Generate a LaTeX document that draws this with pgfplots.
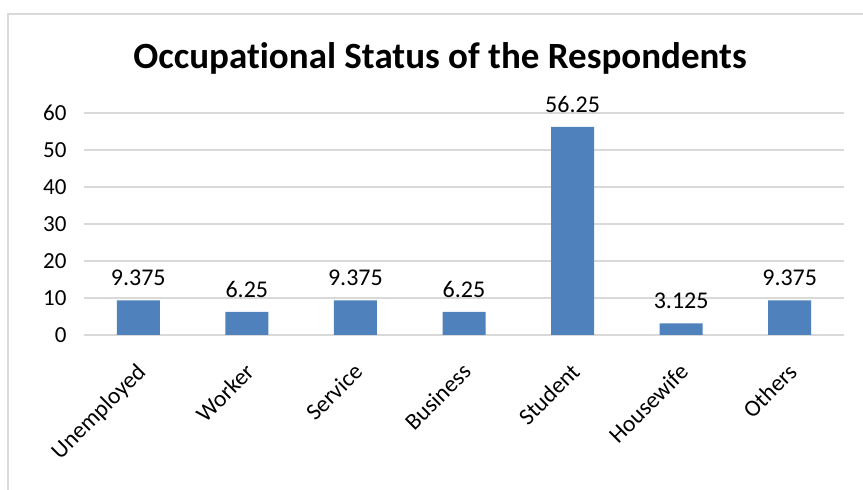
\documentclass[border=0pt]{standalone}
\usepackage{fontspec}
\setmainfont[Ligatures={NoCommon}]{Carlito}
\usepackage{pgfplots}
\pgfplotsset{compat=1.18}
\definecolor{barblue}{HTML}{4F81BD}
\definecolor{gridgray}{HTML}{D9D9D9}
\begin{document}
\begin{tikzpicture}[x=1pt,y=1pt]
\useasboundingbox (0,0) rectangle (863,490);
\fill[white] (0,0) rectangle (863,490);
% chart frame (top and left edges)
\draw[gridgray, line width=2pt] (8,0) -- (8,476) -- (863,476);
% title
\node[anchor=base, font=\fontsize{37}{40}\selectfont\bfseries] at (440,421) {Occupational Status of the Respondents};
\begin{axis}[
  at={(84pt,155pt)}, anchor=south west,
  scale only axis, width=760pt, height=222pt,
  xmin=-0.5, xmax=6.5, ymin=0, ymax=60,
  ytick={0,10,...,60},
  xtick={0,...,6},
  xticklabels={Unemployed,Worker,Service,Business,Student,Housewife,Others},
  axis line style={draw=none},
  axis x line*=bottom, axis y line*=left,
  major tick length=0pt,
  ymajorgrids, grid style={gridgray, line width=1.5pt},
  extra y ticks={0}, extra y tick labels={},
  extra y tick style={grid style={gridgray, line width=2pt}},
  tick label style={font=\fontsize{23}{26}\selectfont},
  /pgf/number format/assume math mode=true,
  yticklabel style={xshift=-14pt},
  xticklabel style={xshift=-3pt, yshift=-22pt, rotate=45, anchor=north east, font=\fontsize{23.5}{26}\selectfont},
  ybar, bar width=43pt,
  nodes near coords,
  every node near coord/.append style={font=\fontsize{24}{26}\selectfont, yshift=11pt, text=black},
  point meta=explicit symbolic,
  clip=false,
]
\addplot[fill=barblue, draw=none] coordinates {
  (0,9.375) [9.375]
  (1,6.25) [6.25]
  (2,9.375) [9.375]
  (3,6.25) [6.25]
  (4,56.25) [56.25]
  (5,3.125) [3.125]
  (6,9.375) [9.375]
};
\end{axis}
\end{tikzpicture}
\end{document}
